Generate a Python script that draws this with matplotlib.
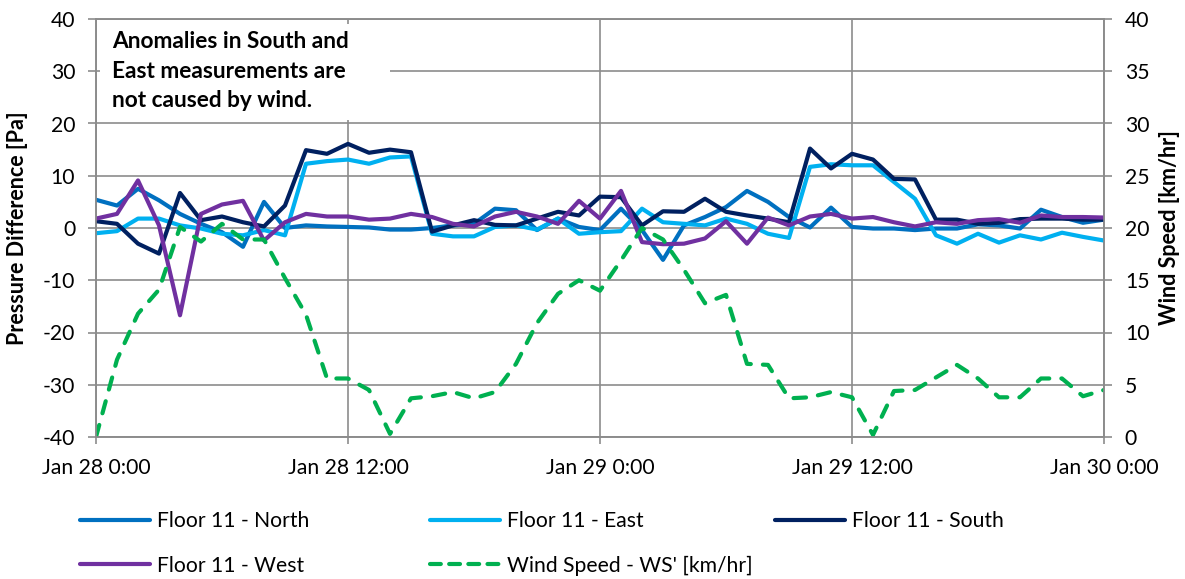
import matplotlib
matplotlib.use("Agg")
import matplotlib.pyplot as plt
import matplotlib.dates as mdates
from matplotlib.lines import Line2D
from matplotlib.patches import Rectangle
import pandas as pd

plt.rcParams['font.family'] = ['Lato', 'DejaVu Sans']
plt.rcParams['axes.unicode_minus'] = False

# Hourly readings, Jan 28 0:00 through Jan 30 0:00
times = pd.date_range("2014-01-28 00:00", periods=49, freq="h")

north = [5.4, 4.3, 7.5, 5.3, 2.7, 0.8, -0.8, -3.6, 5.0, 0.0, 0.5, 0.3, 0.2,
         0.1, -0.3, -0.3, 0.0, 0.5, 0.8, 3.7, 3.4, -0.4, 1.8, 0.2, -0.4,
         3.7, -0.4, -6.1, 0.5, 2.1, 4.0, 7.1, 5.0, 2.1, 0.1, 3.9, 0.2,
         -0.1, -0.1, -0.4, -0.1, -0.1, 0.7, 0.5, -0.1, 3.5, 2.1, 1.0, 1.6]

east = [-1.0, -0.6, 1.8, 1.8, 0.5, -0.1, -1.1, -1.4, -0.4, -1.4, 12.3, 12.8, 13.1,
        12.3, 13.5, 13.7, -1.1, -1.6, -1.6, 0.2, 0.5, -0.3, 1.8, -1.1, -0.8,
        -0.6, 3.7, 1.1, 0.8, 0.5, 1.8, 0.8, -1.1, -1.9, 11.7, 12.2, 12.0,
        12.0, 8.8, 5.6, -1.4, -3.0, -1.1, -2.8, -1.4, -2.2, -0.9, -1.7, -2.4]

south = [1.3, 0.8, -3.0, -4.9, 6.7, 1.5, 2.2, 1.1, 0.3, 4.3, 14.9, 14.2, 16.1,
         14.4, 15.0, 14.5, -0.7, 0.5, 1.5, 0.6, 0.5, 1.8, 3.1, 2.4, 6.0,
         5.9, 0.5, 3.2, 3.1, 5.6, 3.1, 2.4, 1.8, 1.1, 15.2, 11.4, 14.2,
         13.1, 9.4, 9.3, 1.6, 1.6, 0.8, 1.0, 1.7, 1.8, 1.8, 1.6, 1.6]

west = [1.8, 2.7, 9.1, 0.5, -16.7, 2.7, 4.5, 5.2, -2.4, 1.1, 2.7, 2.2, 2.2,
        1.6, 1.8, 2.7, 2.1, 0.8, 0.3, 2.2, 3.1, 2.2, 0.8, 5.2, 1.8,
        7.1, -2.7, -3.1, -3.0, -2.0, 1.3, -3.0, 2.0, 0.5, 2.2, 2.7, 1.8,
        2.1, 1.1, 0.3, 1.1, 0.8, 1.5, 1.7, 1.0, 2.4, 2.1, 2.1, 2.0]

wind = [0.0, 7.4, 11.8, 14.1, 20.1, 18.7, 20.4, 18.9, 18.9, 15.2, 11.7, 5.6, 5.6,
        4.5, 0.3, 3.7, 3.9, 4.3, 3.7, 4.3, 7.0, 10.9, 13.7, 15.0, 14.0,
        16.9, 20.0, 18.9, 16.0, 12.8, 13.6, 7.0, 6.9, 3.7, 3.8, 4.3, 3.8,
        0.2, 4.4, 4.5, 5.7, 6.9, 5.6, 3.8, 3.8, 5.6, 5.6, 3.9, 4.5]

labels = ["Floor 11 - North", "Floor 11 - East", "Floor 11 - South",
          "Floor 11 - West", "Wind Speed - WS' [km/hr]"]
colors = ["#0070C0", "#00B0F0", "#002060", "#7030A0", "#00B050"]
note = "Anomalies in South and\nEast measurements are\nnot caused by wind."

GRID = "#8C8C8C"
LW = 3.0
FS = 15.2
FS_NOTE = 16.3
FS_LABEL = 15.5

fig = plt.figure(figsize=(11.85, 5.79), dpi=100)
ax = fig.add_axes([96 / 1185, 1 - 437 / 579, 1008 / 1185, 418 / 579])
ax2 = ax.twinx()

line_kw = dict(lw=LW, solid_joinstyle="round", solid_capstyle="round")
handles = []
for series, lab, col in zip([north, east, south, west], labels[:4], colors[:4]):
    h, = ax.plot(times, series, color=col, label=lab, zorder=3, **line_kw)
    handles.append(h)

hw, = ax2.plot(times, wind, color=colors[4], lw=LW, dashes=(3.0, 2.9),
               dash_capstyle="round", dash_joinstyle="round", label=labels[4])
handles.append(hw)

# Axes ranges and ticks
ax.set_ylim(-40, 40)
ax.set_yticks(range(-40, 41, 10))
ax2.set_ylim(0, 40)
ax2.set_yticks(range(0, 41, 5))
ax.set_xlim(times[0], times[-1])
ax.xaxis.set_major_locator(mdates.HourLocator(byhour=[0, 12]))


def fmt_time(x, pos):
    d = mdates.num2date(x)
    return f"{d:%b} {d.day} {d.hour}:{d:%M}"


ax.xaxis.set_major_formatter(plt.FuncFormatter(fmt_time))

ax.set_axisbelow(True)
ax.grid(True, color=GRID, lw=1.2, zorder=0)
for a in (ax, ax2):
    for s in a.spines.values():
        s.set_color(GRID)
        s.set_linewidth(1.2)
ax.tick_params(axis="y", direction="out", length=6, width=1.2, color=GRID,
               pad=9, labelsize=FS)
ax.tick_params(axis="x", direction="out", length=5, width=1.2, color=GRID,
               pad=10, labelsize=FS)
ax2.tick_params(axis="y", direction="out", length=6, width=1.2, color=GRID,
                pad=9, labelsize=FS)

fig.text(18 / 1185, 1 - 228 / 579, "Pressure Difference [Pa]", rotation=90,
         ha="center", va="center", fontsize=FS_LABEL, fontweight="bold")
fig.text(1170 / 1185, 1 - 228 / 579, "Wind Speed [km/hr]", rotation=90,
         ha="center", va="center", fontsize=FS_LABEL, fontweight="bold")

# Note box covering the gridlines behind it
ax2.add_patch(Rectangle((4 / 1008, 1 - (120 - 19) / 418), 290 / 1008, 96 / 418,
                        transform=ax.transAxes, facecolor="white",
                        edgecolor="none", zorder=1))
ax2.text(16 / 1008, 1 - (31 - 19) / 418, note, transform=ax.transAxes,
         ha="left", va="top", fontsize=FS_NOTE, fontweight="bold",
         linespacing=1.5, zorder=2)

# Legend in three columns below the plot
leg_kw = dict(loc="center left", frameon=False, fontsize=FS, handlelength=3.3,
              handletextpad=0.35, labelspacing=1.15, borderpad=0,
              borderaxespad=0)
cols = [([handles[0], handles[3]], 80), ([handles[1], handles[4]], 430),
        ([handles[2]], 775)]
for hs, xpix in cols:
    ycen = (521 + 566) / 2 if len(hs) == 2 else 521
    proxies = []
    for h in hs:
        p = Line2D([], [], color=h.get_color(), lw=LW, linestyle=h.get_linestyle(),
                   solid_capstyle="round", dash_capstyle="round")
        if h is hw:
            p.set_dashes((2.6, 2.0))
        proxies.append(p)
    fig.legend(proxies, [h.get_label() for h in hs],
               bbox_to_anchor=(xpix / 1185, 1 - ycen / 579), **leg_kw)

fig.savefig("out.png", dpi=100)
